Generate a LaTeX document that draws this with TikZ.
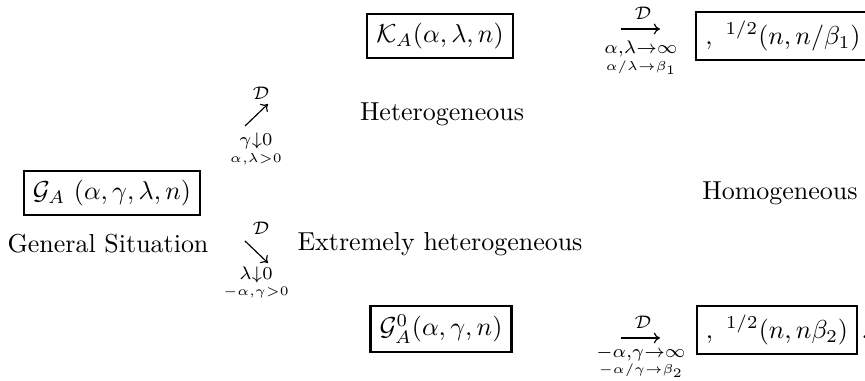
\documentclass[tikz,border=0pt]{standalone}
\usetikzlibrary{arrows.meta}
\begin{document}
\begin{tikzpicture}[x=0.385pt,y=-0.385pt,
  box/.style={draw,line width=0.8pt,inner xsep=3.5pt,inner ysep=3.5pt},
  lbl/.style={inner sep=0pt},
  arr/.style={-{Computer Modern Rightarrow[length=2.4pt,width=4.2pt]},line width=0.45pt}]
\useasboundingbox (0,0) rectangle (865,381);
% boxes
\node[box] (K) at (440,36) {$\mathcal{K}_A(\alpha,\lambda,n)$};
\node[box] (H1) at (783,36) {$,\ {}^{1/2}(n,n/\beta_1)$};
\node[box] (GA) at (112,193) {$\mathcal{G}_A\ (\alpha,\gamma,\lambda,n)$};
\node[box] (G0) at (441,329) {$\mathcal{G}^0_A(\alpha,\gamma,n)$};
\node[box] (H2) at (777,330) {$,\ {}^{1/2}(n,n\beta_2)$};
\node[lbl,anchor=base west] (dot) at ([xshift=1pt]H2.east |- H2.base) {.};
% texts
\node[lbl] (het) at (442,114) {Heterogeneous};
\node[lbl] (hom) at (780,193) {Homogeneous};
\node[lbl] (gen) at (108,244) {General Situation};
\node[lbl] (ext) at (440,244) {Extremely heterogeneous};
% top arrow
\coordinate (t1) at (621,29);
\coordinate (t2) at (660,29);
\draw[arr] (t1) -- (t2);
\node[lbl] (tD) at (643,13) {$\scriptstyle\mathcal{D}$};
\node[lbl] (tc1) at (641,49) {$\scriptstyle\alpha,\lambda\to\infty$};
\node[lbl] (tc2) at (641,68) {$\scriptscriptstyle\alpha/\lambda\to\beta_1$};
% up arrow
\coordinate (u1) at (245,126);
\coordinate (u2) at (268,104);
\draw[arr] (u1) -- (u2);
\node[lbl] (uD) at (261,93) {$\scriptstyle\mathcal{D}$};
\node[lbl] (uc1) at (256,141) {$\scriptstyle\gamma\downarrow0$};
\node[lbl] (uc2) at (256,159) {$\scriptscriptstyle\alpha,\lambda>0$};
% down arrow
\coordinate (d1) at (245,241);
\coordinate (d2) at (268,263);
\draw[arr] (d1) -- (d2);
\node[lbl] (dD) at (261,228) {$\scriptstyle\mathcal{D}$};
\node[lbl] (dc1) at (256,275) {$\scriptstyle\lambda\downarrow0$};
\node[lbl] (dc2) at (256,292) {$\scriptscriptstyle-\alpha,\gamma>0$};
% bottom arrow
\coordinate (b1) at (621,338);
\coordinate (b2) at (660,338);
\draw[arr] (b1) -- (b2);
\node[lbl] (bD) at (643,322) {$\scriptstyle\mathcal{D}$};
\node[lbl] (bc1) at (641,354) {$\scriptstyle-\alpha,\gamma\to\infty$};
\node[lbl] (bc2) at (641,371) {$\scriptscriptstyle-\alpha/\gamma\to\beta_2$};
\end{tikzpicture}
\end{document}
